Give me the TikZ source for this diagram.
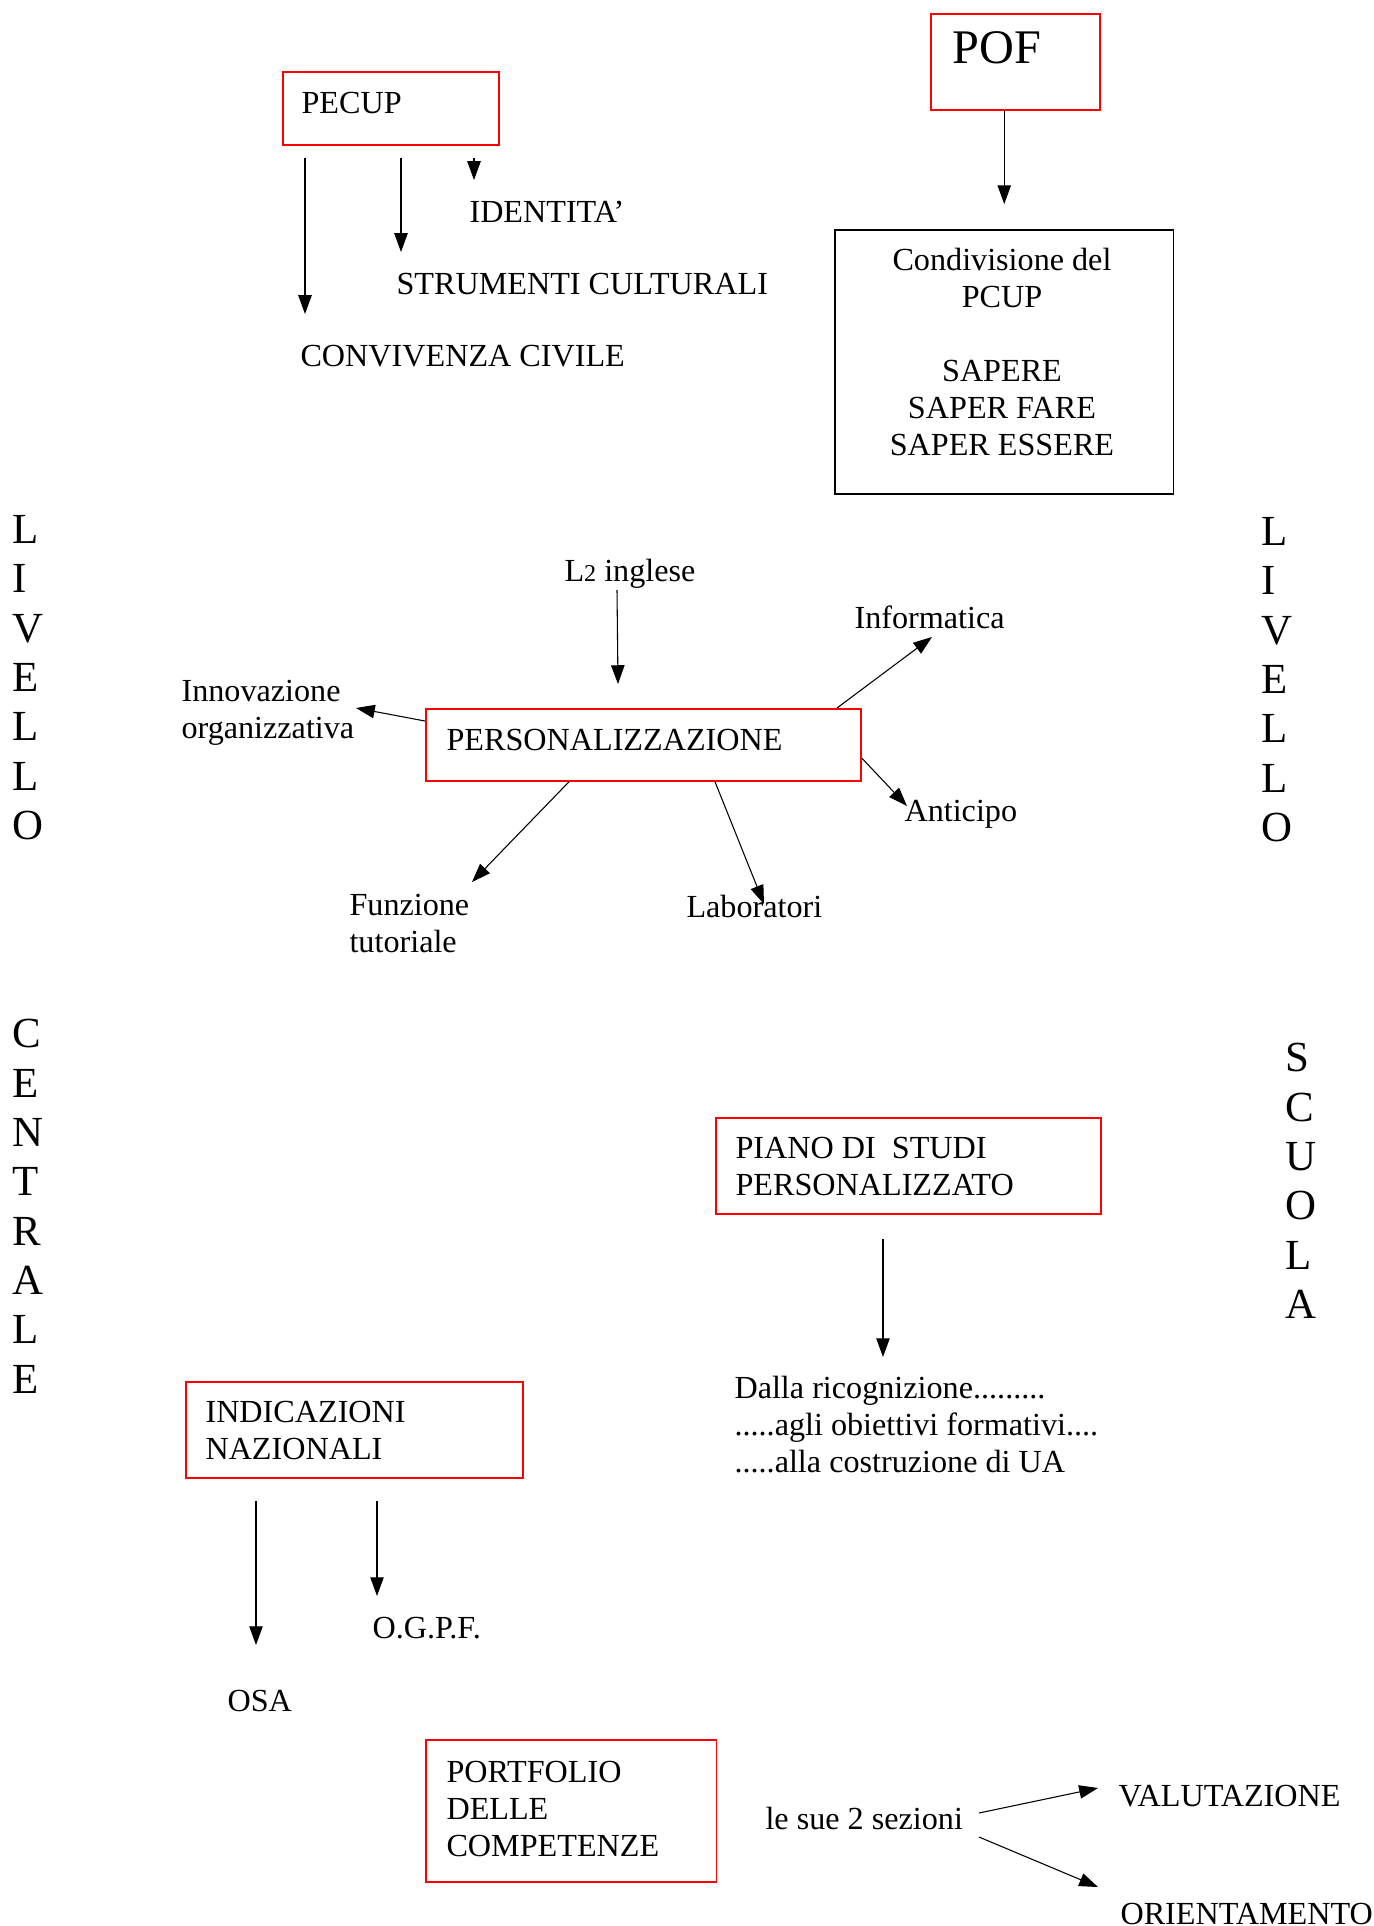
\documentclass[tikz,border=0pt]{standalone}
\usepackage{fontspec}
\setmainfont{Liberation Serif}
\usepackage{tikz}
\usetikzlibrary{arrows.meta,positioning}

\begin{document}
\begin{tikzpicture}[x=0.373pt,y=-0.373pt,
        every node/.style={inner sep=0pt,font=\fontsize{12}{13.8}\selectfont},
        box/.style={draw=red,line width=0.6pt,anchor=north west},
        txt/.style={anchor=base west},
        block/.style={anchor=north west,align=left},
        letters/.style={anchor=north west,align=left,font=\fontsize{16}{18.4}\selectfont},
        arr/.style={-{Triangle[length=7pt,width=5pt]},line width=0.4pt}]
        \useasboundingbox (0,0) rectangle (1374,1926);

        \node[box,minimum width=80.6pt,minimum height=27.2pt] (pecup) at (282,71) {};
        \node[box,minimum width=63pt,minimum height=35.8pt] (pof) at (930,13) {};
        \node[box,draw=black,minimum width=126.4pt,minimum height=98.5pt] (cond) at (834,229) {};
        \node[box,minimum width=162.3pt,minimum height=26.9pt] (pers) at (425,708) {};
        \node[box,minimum width=143.6pt,minimum height=35.8pt] (piano) at (715,1117) {};
        \node[box,minimum width=125.7pt,minimum height=35.8pt] (indic) at (185,1381) {};
        \node[box,minimum width=108.5pt,minimum height=53pt] (portf) at (425,1739) {};

        \node[txt] (pecupT) at (301,113) {PECUP};
        \node[txt,font=\fontsize{18}{20.7}\selectfont] (pofT) at (952,63) {POF};
        \node[txt] (ident) at (469,222) {IDENTITA’};
        \node[txt] (strum) at (396,294) {STRUMENTI CULTURALI};
        \node[txt] (conv) at (300,366) {CONVIVENZA CIVILE};
        \node[anchor=north,align=center] (condT) at (1002,248)
            {Condivisione del\\PCUP\\[13.8pt]SAPERE\\SAPER FARE\\SAPER ESSERE};

        \node[letters] (liv1) at (12,515) {L\\I\\V\\E\\L\\L\\O};
        \node[letters] (liv2) at (1261,517) {L\\I\\V\\E\\L\\L\\O};
        \node[letters] (centr) at (12,1019) {C\\E\\N\\T\\R\\A\\L\\E};
        \node[letters] (scuola) at (1285,1043) {S\\C\\U\\O\\L\\A};

        \node[txt] (persT) at (446,750) {PERSONALIZZAZIONE};
        \node[txt] (lingua) at (564,581) {L{\fontsize{9}{10}\selectfont 2} inglese};
        \node[txt] (info) at (854,628) {Informatica};
        \node[block] (innov) at (181,680) {Innovazione\\organizzativa};
        \node[txt] (antic) at (904,821) {Anticipo};
        \node[block] (funz) at (349,894) {Funzione\\tutoriale};
        \node[txt] (lab) at (686,917) {Laboratori};

        \node[block] (pianoT) at (735,1137) {PIANO DI\ \ STUDI\\PERSONALIZZATO};
        \node[block] (dalla) at (734,1376)
            {Dalla ricognizione.........\\.....agli obiettivi formativi....\\.....alla costruzione di UA};
        \node[block] (indicT) at (205,1401) {INDICAZIONI\\NAZIONALI};
        \node[txt] (ogpf) at (372,1638) {O.G.P.F.};
        \node[txt] (osa) at (227,1711) {OSA};

        \node[block] (portfT) at (446,1761) {PORTFOLIO\\DELLE\\COMPETENZE};
        \node[txt] (sez) at (765,1829) {le sue 2 sezioni};
        \node[txt] (valut) at (1118,1806) {VALUTAZIONE};
        \node[txt] (orient) at (1120,1924) {ORIENTAMENTO};

        \draw[arr] (pof.south -| cond.north) -- ([yshift=9.3pt]cond.north);
        \draw[arr] ([shift={(23,12)}]pecup.south west) -- ([shift={(5,-52)}]conv.base west);
        \draw[arr] ([shift={(119,12)}]pecup.south west) -- ([shift={(5,-42)}]strum.base west);
        \draw[arr] ([shift={(192,12)}]pecup.south west) -- ([shift={(5,-42)}]ident.base west);

        \draw[arr] ([shift={(53,9)}]lingua.base west) -- ([shift={(193,-24)}]pers.north west);
        \draw[arr] ([shift={(412,0)}]pers.north west) -- ([shift={(78,9)}]info.base west);
        \draw[arr] ([shift={(0,13)}]pers.north west) -- ([shift={(175,28)}]innov.north west);
        \draw[arr] ([shift={(0,50)}]pers.north east) -- ([shift={(3,-15)}]antic.base west);
        \draw[arr] ([shift={(144,0)}]pers.south west) -- ([shift={(123,-12)}]funz.north west);
        \draw[arr] ([shift={(290,0)}]pers.south west) -- ([shift={(78,-13)}]lab.base west);

        \draw[arr] ([shift={(168,24)}]piano.south west) -- ([shift={(149,-19)}]dalla.north west);
        \draw[arr] ([shift={(71,22)}]indic.south west) -- ([shift={(29,-66)}]osa.base west);
        \draw[arr] ([shift={(192,22)}]indic.south west) -- ([shift={(5,-42)}]ogpf.base west);

        \draw[arr] ([shift={(214,-16)}]sez.base west) -- ([shift={(-20,-18)}]valut.base west);
        \draw[arr] ([shift={(214,8)}]sez.base west) -- ([shift={(-22,-37)}]orient.base west);
    \end{tikzpicture}
\end{document}
